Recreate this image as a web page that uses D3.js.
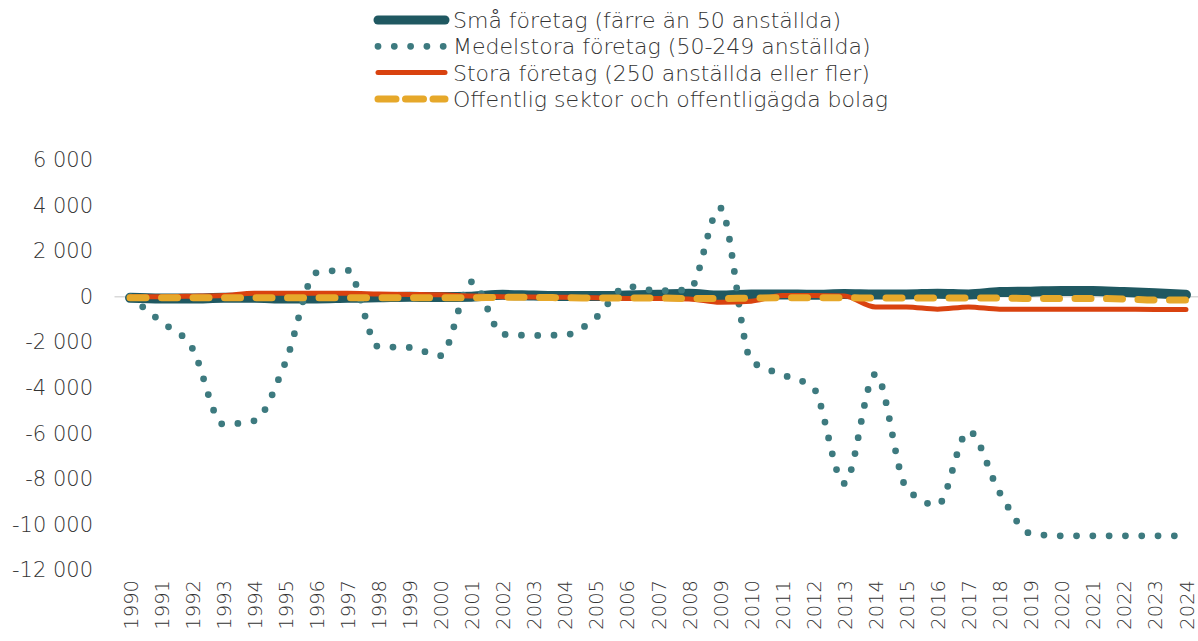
<!DOCTYPE html>
<html lang="sv">
<head>
<meta charset="UTF-8">
<title>Sysselsättning per företagsstorlek</title>
<script src="https://cdnjs.cloudflare.com/ajax/libs/d3/7.9.0/d3.min.js"></script>
<style>
  body { margin: 0; background: #fff; }
  svg text { font-family: "DejaVu Sans", sans-serif; font-weight: 200; fill: #333; }
</style>
</head>
<body>
<svg id="chart" width="1198" height="641"></svg>
<script>
// data
const years = d3.range(1990, 2025);

const sma = [-50, -80, -80, -50, -50, -80, -80, -50, -30, 0, -20, 0, 80, 50, 30, 30, 50, 80, 130, 50,
  100, 100, 80, 120, 100, 100, 130, 100, 200, 220, 250, 250, 200, 150, 80];

const medelstora = [0, -1100, -2250, -5600, -5450, -2900, 1050, 1160, -2200, -2230, -2590, 650, -1650, -1700, -1680,
  -920, 450, 260, 300, 3900, -2800, -3420, -4000, -8200, -3400, -8400, -9150, -5900, -8600, -10400,
  -10500, -10500, -10500, -10500, -10500];

const stora = [0, 0, 20, 50, 150, 150, 150, 150, 120, 100, 80, 30, 0, -20, -30, -50, -80, -80, -100, -250,
  -200, 50, 50, 30, -450, -450, -550, -450, -550, -550, -550, -550, -550, -560, -560];

const offentlig = [-50, -50, -50, -50, -50, -50, -50, -50, -50, -50, -50, -50, -30, -30, -50, -60, -60, -60, -80, -80,
  -60, -50, -50, -50, -60, -60, -60, -60, -60, -80, -80, -80, -100, -150, -150];

const yTicks = [6000, 4000, 2000, 0, -2000, -4000, -6000, -8000, -10000, -12000];

const series = [
  { name: "Små företag (färre än 50 anställda)", values: sma, color: "#1f5861", width: 10, dash: null },
  { name: "Medelstora företag (50-249 anställda)", values: medelstora, color: "#3d7a7f", width: 6.8, dash: "0,16.3" },
  { name: "Stora företag (250 anställda eller fler)", values: stora, color: "#d9420f", width: 5, dash: null },
  { name: "Offentlig sektor och offentligägda bolag", values: offentlig, color: "#e6a82a", width: 7, dash: "16,15.5" }
];

const svg = d3.select("#chart");

const x = d3.scalePoint().domain(years).range([114.5, 1201.5]).padding(0.5);
const y = d3.scaleLinear().domain([-12000, 6000]).range([570, 160]);

const fmt = d3.formatLocale({ decimal: ",", thousands: " ", grouping: [3], currency: ["", ""], minus: "-" }).format(",d");

// y axis labels
const yAxis = d3.axisLeft(y).tickValues(yTicks).tickFormat(fmt).tickSize(0).tickPadding(0);
svg.append("g")
  .attr("transform", "translate(93,0)")
  .call(yAxis)
  .call(g => g.select(".domain").remove())
  .selectAll("text")
  .attr("font-size", 21)
  .style("fill", "#333");

// zero line
svg.append("line")
  .attr("x1", 114.5).attr("x2", 1201.5)
  .attr("y1", y(0)).attr("y2", y(0))
  .attr("stroke", "#d9d9d9").attr("stroke-width", 1.5);

// x axis labels, rotated
const xAxis = d3.axisBottom(x).tickSize(0).tickPadding(0);
svg.append("g")
  .attr("transform", "translate(0,580)")
  .call(xAxis)
  .call(g => g.select(".domain").remove())
  .selectAll("text")
  .attr("font-size", 19.5)
  .attr("transform", "rotate(-90)")
  .attr("text-anchor", "end")
  .attr("x", 0).attr("y", 0).attr("dy", "0.36em")
  .style("fill", "#333");

const line = d3.line()
  .x((d, i) => x(years[i]))
  .y(d => y(d))
  .curve(d3.curveMonotoneX);

series.forEach(s => {
  svg.append("path")
    .datum(s.values)
    .attr("d", line)
    .attr("fill", "none")
    .attr("stroke", s.color)
    .attr("stroke-width", s.width)
    .attr("stroke-linecap", "round")
    .attr("stroke-linejoin", "round")
    .attr("stroke-dasharray", s.dash);
});

// legend
const legend = svg.append("g");
series.forEach((s, i) => {
  const cy = 20 + i * 26.3;
  legend.append("line")
    .attr("x1", 378).attr("x2", s.dash === "0,16.3" ? 444 : 445)
    .attr("y1", cy).attr("y2", cy)
    .attr("stroke", s.color)
    .attr("stroke-width", s.width === 10 ? 9 : s.width)
    .attr("stroke-linecap", "round")
    .attr("stroke-dasharray", s.dash === "16,15.5" ? "18,9.5" : s.dash);
  legend.append("text")
    .attr("x", 453).attr("y", cy).attr("dy", "0.36em")
    .attr("font-size", 22)
    .text(s.name);
});
</script>
</body>
</html>
